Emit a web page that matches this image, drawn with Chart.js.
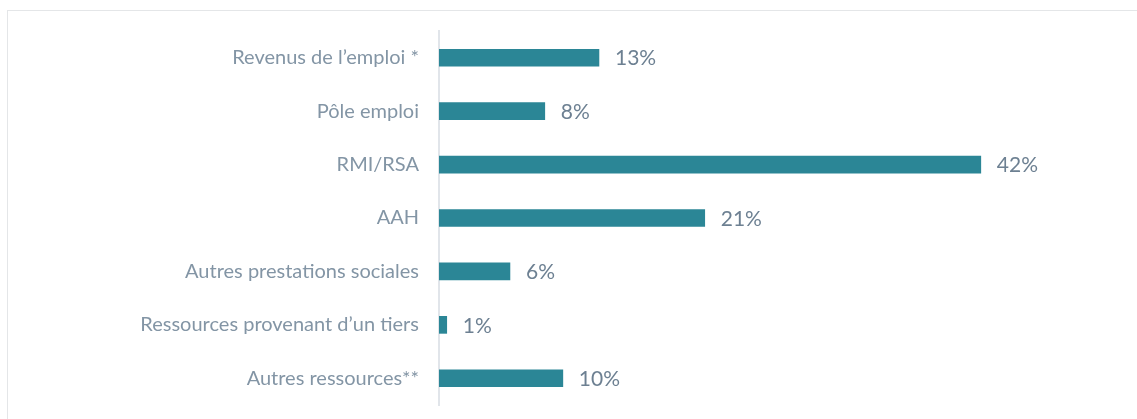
<!DOCTYPE html>
<html>
<head>
<meta charset="utf-8">
<script src="https://cdn.jsdelivr.net/npm/chart.js@4"></script>
<style>
  html, body { margin: 0; padding: 0; background: #fff; overflow: hidden; }
  #frame { position: absolute; left: 7px; top: 10px; width: 1200px; height: 500px; border: 1px solid #e4e6e8; }
  #chart { position: absolute; left: 0; top: 0; }
</style>
</head>
<body>
<div id="frame"></div>
<canvas id="chart" width="1137" height="419"></canvas>
<script>
// categories and values
var categories = [
  "Revenus de l\u2019emploi *",
  "P\u00f4le emploi",
  "RMI/RSA",
  "AAH",
  "Autres prestations sociales",
  "Ressources provenant d\u2019un tiers",
  "Autres ressources**"
];
var values = [12.4, 8.2, 42, 20.6, 5.5, 0.6, 9.6];
var valueLabels = ["13%", "8%", "42%", "21%", "6%", "1%", "10%"];

var labelFont = "Lato, 'Open Sans', sans-serif";

// draws the % text to the right of each bar
var valueLabelPlugin = {
  id: 'valueLabels',
  afterDatasetsDraw: function(chart) {
    var ctx = chart.ctx;
    var meta = chart.getDatasetMeta(0);
    ctx.save();
    ctx.font = "21px " + labelFont;
    ctx.fillStyle = "#6d8092";
    ctx.textAlign = "left";
    ctx.textBaseline = "middle";
    meta.data.forEach(function(bar, i) {
      ctx.fillText(valueLabels[i], bar.x + 16, bar.y + 1);
    });
    ctx.restore();
  }
};

var ctx = document.getElementById("chart").getContext("2d");
new Chart(ctx, {
  type: 'bar',
  data: {
    labels: categories,
    datasets: [{
      data: values,
      backgroundColor: "#2b8696",
      borderWidth: 0,
      barThickness: 17
    }]
  },
  options: {
    indexAxis: 'y',
    responsive: false,
    animation: false,
    layout: { padding: { top: 31, bottom: 14, left: 0, right: 53 } },
    plugins: {
      legend: { display: false },
      tooltip: { enabled: false }
    },
    scales: {
      x: {
        display: false,
        min: 0,
        max: 50
      },
      y: {
        grid: { display: false, drawTicks: false },
        border: { display: true, color: "#e1e5ea", width: 2 },
        ticks: {
          color: "#8395a5",
          padding: 20,
          font: { family: labelFont, size: 20 }
        },
        afterFit: function(scale) {
          scale.width = 439;
          scale.paddingTop = 0;
          scale.paddingBottom = 0;
        }
      }
    }
  },
  plugins: [valueLabelPlugin]
});
</script>
</body>
</html>
